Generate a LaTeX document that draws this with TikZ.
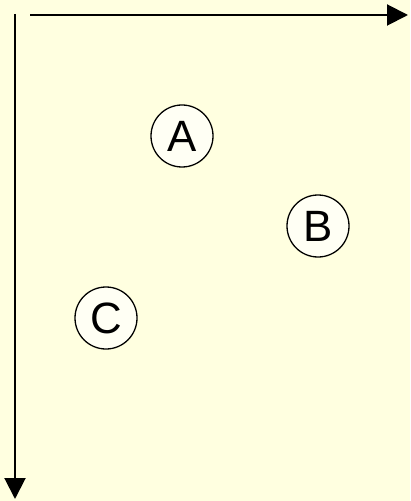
\documentclass[tikz,border=0pt]{standalone}
\usepackage{fontspec}
\setmainfont{Liberation Sans}
\usetikzlibrary{arrows.meta}
\definecolor{bgyellow}{HTML}{FFFFE0}
\definecolor{circfill}{HTML}{FFFFF4}
\begin{document}
\begin{tikzpicture}[x=1bp,y=-1bp,
  ball/.style={circle,draw=black,line width=1.3bp,fill=circfill,minimum size=62bp,inner sep=0pt,font=\fontsize{44}{46}\selectfont},
  axis/.style={line width=2bp,-{Triangle[length=21bp,width=21bp]}}]
\fill[bgyellow] (0,0) rectangle (410,501);
\useasboundingbox (0,0) rectangle (410,501);
\coordinate (ox) at (30,15);
\coordinate (xend) at (408,15);
\coordinate (oy) at (15,14);
\coordinate (yend) at (15,499);
\draw[axis] (ox) -- (xend);
\draw[axis] (oy) -- (yend);
\node[ball] (A) at (182,136) {A};
\node[ball] (B) at (318,226) {B};
\node[ball] (C) at (106,318) {C};
\end{tikzpicture}
\end{document}
